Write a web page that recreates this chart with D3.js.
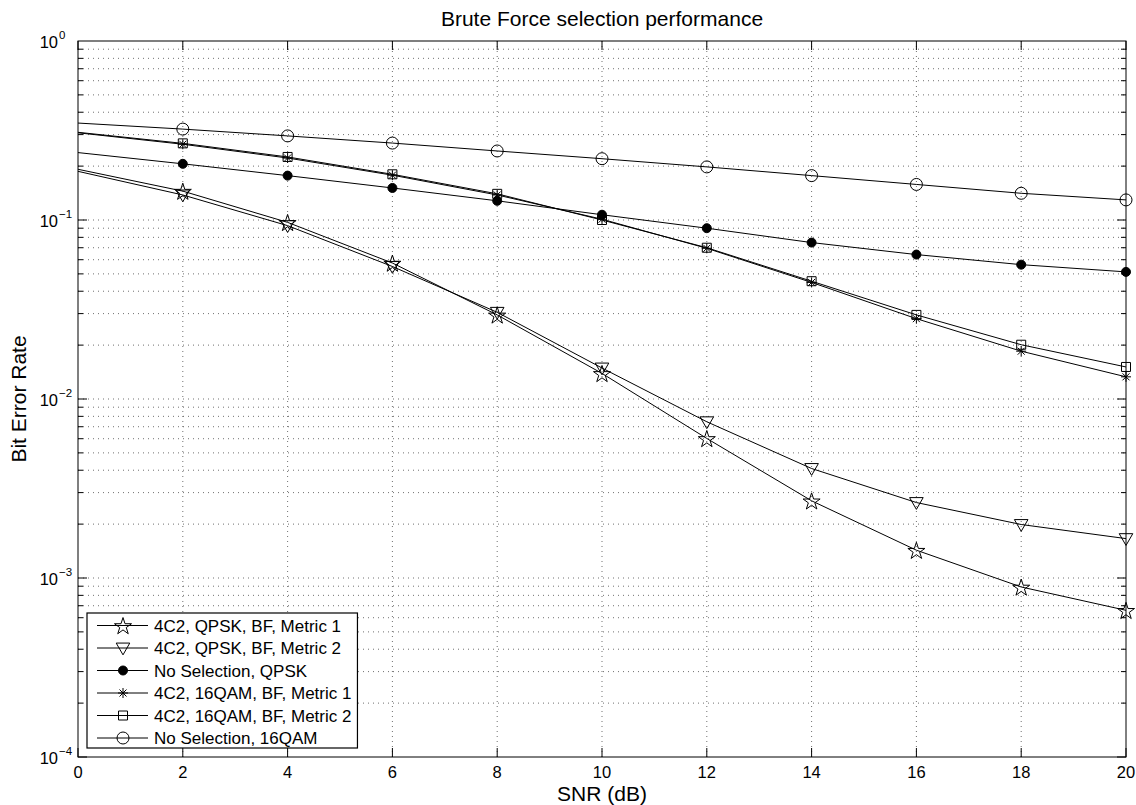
<!DOCTYPE html>
<html>
<head>
<meta charset="utf-8">
<script src="https://cdn.jsdelivr.net/npm/d3@7"></script>
<style>
  body { margin: 0; background: #fff; }
  text { font-family: "Liberation Sans", Arial, sans-serif; fill: #000; }
</style>
</head>
<body>
<div class="chart"></div>
<script>
// Chart size.
var w = 1136,
    h = 805;

// Plot area edges.
var plotLeft = 78, plotRight = 1126, plotTop = 41, plotBottom = 757;

// Data.
var snr = [0, 2, 4, 6, 8, 10, 12, 14, 16, 18, 20];
var qpskMetric1 = [0.192, 0.145, 0.097, 0.0575, 0.0295, 0.0139, 0.00602, 0.00270, 0.00143, 0.000891, 0.000660];
var qpskMetric2 = [0.187, 0.138, 0.093, 0.0550, 0.0305, 0.0149, 0.00746, 0.00409, 0.00264, 0.00199, 0.00166];
var noSelQpsk = [0.238, 0.206, 0.177, 0.151, 0.128, 0.107, 0.090, 0.0748, 0.0641, 0.0563, 0.0513];
var qamMetric1 = [0.307, 0.265, 0.222, 0.178, 0.138, 0.101, 0.0695, 0.0448, 0.0281, 0.0185, 0.0133];
var qamMetric2 = [0.309, 0.268, 0.225, 0.180, 0.140, 0.100, 0.0700, 0.0455, 0.0295, 0.0201, 0.0151];
var noSel16qam = [0.348, 0.322, 0.295, 0.269, 0.243, 0.220, 0.198, 0.177, 0.158, 0.141, 0.1295];

var seriesNames = ["4C2, QPSK, BF, Metric 1", "4C2, QPSK, BF, Metric 2", "No Selection, QPSK",
                   "4C2, 16QAM, BF, Metric 1", "4C2, 16QAM, BF, Metric 2", "No Selection, 16QAM"];
var seriesMarkers = ["star", "triangle", "dot", "asterisk", "square", "circle"];
var seriesValues = [qpskMetric1, qpskMetric2, noSelQpsk, qamMetric1, qamMetric2, noSel16qam];

var xTicks = d3.range(0, 21, 2);
var yExponents = [0, -1, -2, -3, -4];

var svg = d3.select(".chart").append("svg")
  .attr("width", w)
  .attr("height", h);

var xScale = d3.scaleLinear().domain([0, 20]).range([plotLeft, plotRight]);
var yScale = d3.scaleLog().domain([1e-4, 1]).range([plotBottom, plotTop]);

// Grid lines, dotted.
var grid = svg.append("g")
  .attr("stroke", "#000")
  .attr("stroke-width", 0.8)
  .attr("stroke-dasharray", "1,4")
  .attr("opacity", 0.7);

xTicks.slice(1, -1).forEach(function(t) {
  grid.append("line")
    .attr("x1", xScale(t)).attr("x2", xScale(t))
    .attr("y1", plotTop).attr("y2", plotBottom);
});

var minorY = [];
for (var e = -4; e < 0; e++) {
  for (var m = 1; m < 10; m++) {
    minorY.push(m * Math.pow(10, e));
  }
}
minorY.slice(1).forEach(function(v) {
  grid.append("line")
    .attr("x1", plotLeft).attr("x2", plotRight)
    .attr("y1", yScale(v)).attr("y2", yScale(v));
});

// Frame and inner ticks.
var frame = svg.append("g").attr("stroke", "#000").attr("stroke-width", 1);
frame.append("rect")
  .attr("x", plotLeft).attr("y", plotTop)
  .attr("width", plotRight - plotLeft).attr("height", plotBottom - plotTop)
  .attr("fill", "none");

xTicks.forEach(function(t) {
  var x = xScale(t);
  frame.append("line").attr("x1", x).attr("x2", x).attr("y1", plotBottom).attr("y2", plotBottom - 9);
  frame.append("line").attr("x1", x).attr("x2", x).attr("y1", plotTop).attr("y2", plotTop + 9);
});

minorY.forEach(function(v, i) {
  var len = (i % 9 === 0) ? 9 : 5;
  var y = yScale(v);
  frame.append("line").attr("x1", plotLeft).attr("x2", plotLeft + len).attr("y1", y).attr("y2", y);
  frame.append("line").attr("x1", plotRight).attr("x2", plotRight - len).attr("y1", y).attr("y2", y);
});

// Tick labels.
svg.append("g").selectAll("text")
  .data(xTicks)
  .enter()
  .append("text")
  .attr("x", function(d) { return xScale(d); })
  .attr("y", plotBottom + 21)
  .attr("text-anchor", "middle")
  .style("font-size", "16.5px")
  .text(function(d) { return d; });

var yLab = svg.append("g");
yLab.selectAll("text.base")
  .data(yExponents)
  .enter()
  .append("text")
  .attr("class", "base")
  .attr("x", 58)
  .attr("y", function(d) { return yScale(Math.pow(10, d)) + 7; })
  .attr("text-anchor", "end")
  .style("font-size", "16.5px")
  .text("10");
yLab.selectAll("text.exp")
  .data(yExponents)
  .enter()
  .append("text")
  .attr("class", "exp")
  .attr("x", 59)
  .attr("y", function(d) { return yScale(Math.pow(10, d)) - 2; })
  .style("font-size", "11.5px")
  .text(function(d) { return d === 0 ? "0" : "\u2212" + (-d); });

// Markers.
function markerPath(type) {
  switch (type) {
    case "star": return d3.symbol(d3.symbolStar, 90)();
    case "triangle": return d3.symbol(d3.symbolTriangle, 80)();
    case "square": return "M-4.5,-4.5H4.5V4.5H-4.5Z";
    case "circle": return "M6,0A6,6 0 1,1 -6,0A6,6 0 1,1 6,0Z";
    case "dot": return "M4.5,0A4.5,4.5 0 1,1 -4.5,0A4.5,4.5 0 1,1 4.5,0Z";
    case "asterisk":
      return "M0,-5V5M-5,0H5M-3.5,-3.5L3.5,3.5M-3.5,3.5L3.5,-3.5";
  }
}

function drawMarker(g, type, x, y) {
  var p = g.append("path")
    .attr("d", markerPath(type))
    .attr("stroke", "#000")
    .attr("stroke-width", 1)
    .attr("fill", type === "dot" ? "#000" : "none");
  if (type === "triangle") {
    p.attr("transform", "translate(" + x + "," + (y - 1) + ") rotate(180)");
  } else if (type === "star") {
    p.attr("transform", "translate(" + x + "," + (y + 1) + ")");
  } else {
    p.attr("transform", "translate(" + x + "," + y + ")");
  }
}

var line = d3.line()
  .x(function(d) { return xScale(d[0]); })
  .y(function(d) { return yScale(d[1]); });

var plot = svg.append("g");
seriesValues.forEach(function(vals, i) {
  var pts = snr.map(function(s, j) { return [s, vals[j]]; });
  plot.append("path")
    .datum(pts)
    .attr("d", line)
    .attr("fill", "none")
    .attr("stroke", "#000")
    .attr("stroke-width", 1);
  pts.slice(1).forEach(function(p) {
    drawMarker(plot, seriesMarkers[i], xScale(p[0]), yScale(p[1]));
  });
});

// Legend.
var legend = svg.append("g");
var legX = 87, legY = 613, rowH = 22.5;
var legBox = legend.append("rect")
  .attr("x", legX).attr("y", legY)
  .attr("height", 135)
  .attr("fill", "#fff")
  .attr("stroke", "#000")
  .attr("stroke-width", 1.2);

var maxW = 0;
seriesNames.forEach(function(name, i) {
  var cy = legY + 12.5 + i * rowH;
  legend.append("line")
    .attr("x1", legX + 10).attr("x2", legX + 61)
    .attr("y1", cy).attr("y2", cy)
    .attr("stroke", "#000").attr("stroke-width", 1);
  drawMarker(legend, seriesMarkers[i], legX + 36, cy);
  var t = legend.append("text")
    .attr("x", legX + 67)
    .attr("y", cy + 6)
    .style("font-size", "17px")
    .text(name);
  maxW = Math.max(maxW, t.node().getComputedTextLength());
});
legBox.attr("width", 67 + maxW + 6);

// Title and axis labels.
svg.append("text")
  .attr("x", (plotLeft + plotRight) / 2)
  .attr("y", 26)
  .attr("text-anchor", "middle")
  .style("font-size", "21px")
  .text("Brute Force selection performance");

svg.append("text")
  .attr("x", (plotLeft + plotRight) / 2)
  .attr("y", 801)
  .attr("text-anchor", "middle")
  .style("font-size", "21px")
  .text("SNR (dB)");

svg.append("text")
  .attr("transform", "rotate(-90)")
  .attr("x", -(plotTop + plotBottom) / 2)
  .attr("y", 26)
  .attr("text-anchor", "middle")
  .style("font-size", "21px")
  .text("Bit Error Rate");
</script>
</body>
</html>
